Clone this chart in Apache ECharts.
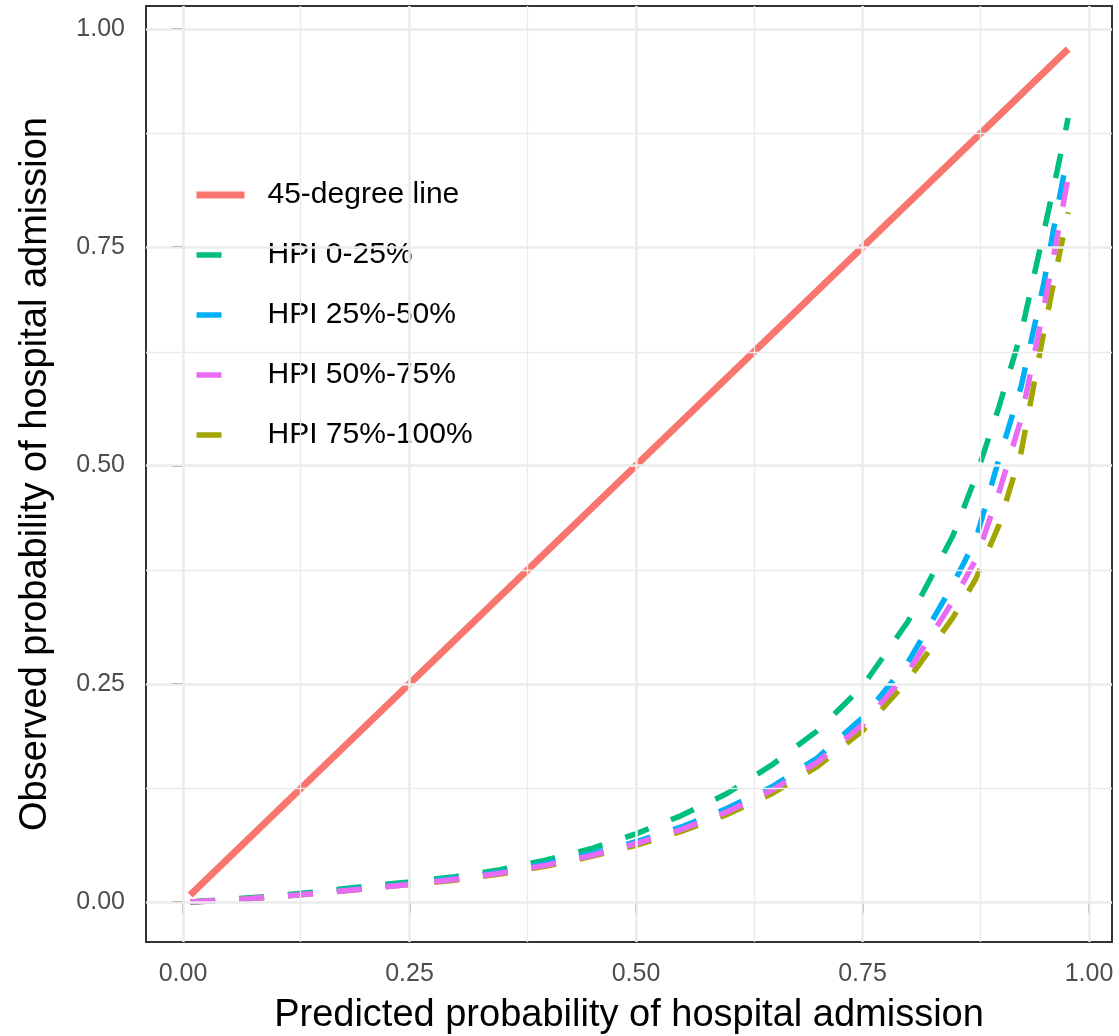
<!DOCTYPE html>
<html>
<head>
<meta charset="utf-8">
<title>Calibration curves by HPI quartile</title>
<script src="https://cdn.jsdelivr.net/npm/echarts@6/dist/echarts.min.js"></script>
<style>
  html, body { margin: 0; padding: 0; background: #ffffff; }
  #chart { width: 1119px; height: 1036px; }
</style>
</head>
<body>
<div id="chart"></div>
<script>
// Predicted probability grid shared by the calibration curves
const predicted = [0.008, 0.05, 0.1, 0.15, 0.2, 0.25, 0.3, 0.35, 0.4, 0.45, 0.5, 0.55,
                   0.6, 0.65, 0.7, 0.75, 0.8, 0.85, 0.875, 0.9, 0.925, 0.95, 0.965, 0.977];

// Observed probability of admission for each HPI quartile
const hpi0to25 = [0.0, 0.003, 0.007, 0.012, 0.018, 0.023, 0.029, 0.037, 0.048, 0.061, 0.078, 0.099,
                  0.124, 0.157, 0.196, 0.247, 0.321, 0.42, 0.487, 0.565, 0.651, 0.767, 0.838, 0.898];
const hpi25to50 = [0.0, 0.002, 0.006, 0.011, 0.016, 0.021, 0.027, 0.034, 0.044, 0.055, 0.069, 0.086,
                   0.107, 0.132, 0.165, 0.211, 0.274, 0.364, 0.415, 0.505, 0.59, 0.708, 0.794, 0.858];
const hpi50to75 = [0.0, 0.002, 0.006, 0.010, 0.015, 0.020, 0.026, 0.033, 0.042, 0.053, 0.067, 0.083,
                   0.103, 0.128, 0.160, 0.203, 0.263, 0.345, 0.392, 0.467, 0.553, 0.68, 0.762, 0.83];
const hpi75to100 = [0.0, 0.002, 0.006, 0.010, 0.015, 0.020, 0.025, 0.032, 0.041, 0.052, 0.065, 0.081,
                    0.100, 0.124, 0.155, 0.196, 0.254, 0.326, 0.37, 0.43, 0.515, 0.652, 0.73, 0.79];

// Reference diagonal end points
const diagonal = [0.008, 0.977];

// Axis ticks and grid positions
const majorTicks = [0, 0.25, 0.5, 0.75, 1];
const minorTicks = [0.125, 0.375, 0.625, 0.875];

const seriesNames = ['45-degree line', 'HPI 0-25%', 'HPI 25%-50%', 'HPI 50%-75%', 'HPI 75%-100%'];
const colors = {
  '45-degree line': '#F8766D',
  'HPI 0-25%': '#00BF7D',
  'HPI 25%-50%': '#00B0F6',
  'HPI 50%-75%': '#E76BF3',
  'HPI 75%-100%': '#A3A500'
};

const solidStyle = { width: 7, type: 'solid', cap: 'butt' };
const dashedStyle = { width: 5.5, type: [25, 24], cap: 'butt' };

const pairs = (xs, ys) => xs.map((x, i) => [x, ys[i]]);

const chart = echarts.init(document.getElementById('chart'), null, { renderer: 'canvas' });

const font = "'Liberation Sans', Arial, Helvetica, sans-serif";

function gridLines(values, axisKey, width) {
  return values.map(v => ({ [axisKey]: v, lineStyle: { color: '#EBEBEB', width: width, type: 'solid' } }));
}

function dashedSeries(name, values) {
  return {
    name: name,
    type: 'line',
    data: pairs(predicted, values),
    showSymbol: false,
    symbol: 'none',
    smooth: false,
    z: 3,
    lineStyle: Object.assign({ color: colors[name] }, dashedStyle),
    itemStyle: { color: colors[name] },
    emphasis: { disabled: true }
  };
}

// Legend keys: a plain line segment, solid for the diagonal, dashed for the quartiles
const legendItems = seriesNames.map((name, i) => ({
  name: name,
  itemStyle: { opacity: 0, borderWidth: 0 },
  lineStyle: Object.assign({ color: colors[name], opacity: 1 }, i === 0 ? solidStyle : dashedStyle)
}));

const option = {
  backgroundColor: '#ffffff',
  animation: false,
  textStyle: { fontFamily: font },
  grid: {
    left: 146, right: 7, top: 6, bottom: 94,
    outerBoundsMode: 'none',
    containLabel: false,
    show: true, borderColor: '#333333', borderWidth: 2, backgroundColor: '#ffffff', z: 0
  },
  xAxis: {
    type: 'value',
    min: -0.0408, max: 1.0254,
    name: 'Predicted probability of hospital admission',
    nameLocation: 'middle',
    nameGap: 55,
    nameTextStyle: { fontSize: 38, color: '#000000', fontFamily: font },
    axisLine: { show: false },
    splitLine: { show: false },
    axisTick: { show: true, customValues: majorTicks, length: 11, lineStyle: { color: '#333333', width: 2 } },
    axisLabel: {
      customValues: majorTicks, margin: 20, fontSize: 25, color: '#4D4D4D', fontFamily: font,
      formatter: v => v.toFixed(2)
    }
  },
  yAxis: {
    type: 'value',
    min: -0.0458, max: 1.0263,
    name: 'Observed probability of hospital admission',
    nameLocation: 'middle',
    nameGap: 91,
    nameTextStyle: { fontSize: 38, color: '#000000', fontFamily: font },
    axisLine: { show: false },
    splitLine: { show: false },
    axisTick: { show: true, customValues: majorTicks, length: 11, lineStyle: { color: '#333333', width: 2 } },
    axisLabel: {
      customValues: majorTicks, margin: 21, fontSize: 25, color: '#4D4D4D', fontFamily: font,
      formatter: v => v.toFixed(2)
    }
  },
  legend: {
    orient: 'vertical',
    left: 193, top: 180,
    padding: 0,
    itemWidth: 48, itemHeight: 14, itemGap: 30,
    selectedMode: false,
    data: legendItems,
    textStyle: { fontSize: 30, color: '#000000', fontFamily: font, lineHeight: 30, padding: [0, 0, 0, 18] }
  },
  series: [
    {
      name: 'grid',
      type: 'line',
      data: [],
      silent: true,
      z: 1,
      markLine: {
        silent: true,
        symbol: ['none', 'none'],
        label: { show: false },
        animation: false,
        data: [
          ...gridLines(minorTicks, 'xAxis', 1.3),
          ...gridLines(minorTicks, 'yAxis', 1.3),
          ...gridLines(majorTicks, 'xAxis', 2.6),
          ...gridLines(majorTicks, 'yAxis', 2.6)
        ]
      }
    },
    {
      name: '45-degree line',
      type: 'line',
      data: pairs(diagonal, diagonal),
      showSymbol: false,
      symbol: 'none',
      z: 2,
      lineStyle: Object.assign({ color: colors['45-degree line'] }, solidStyle),
      itemStyle: { color: colors['45-degree line'] },
      emphasis: { disabled: true }
    },
    dashedSeries('HPI 0-25%', hpi0to25),
    dashedSeries('HPI 25%-50%', hpi25to50),
    dashedSeries('HPI 75%-100%', hpi75to100),
    dashedSeries('HPI 50%-75%', hpi50to75)
  ]
};

chart.setOption(option);
</script>
</body>
</html>
